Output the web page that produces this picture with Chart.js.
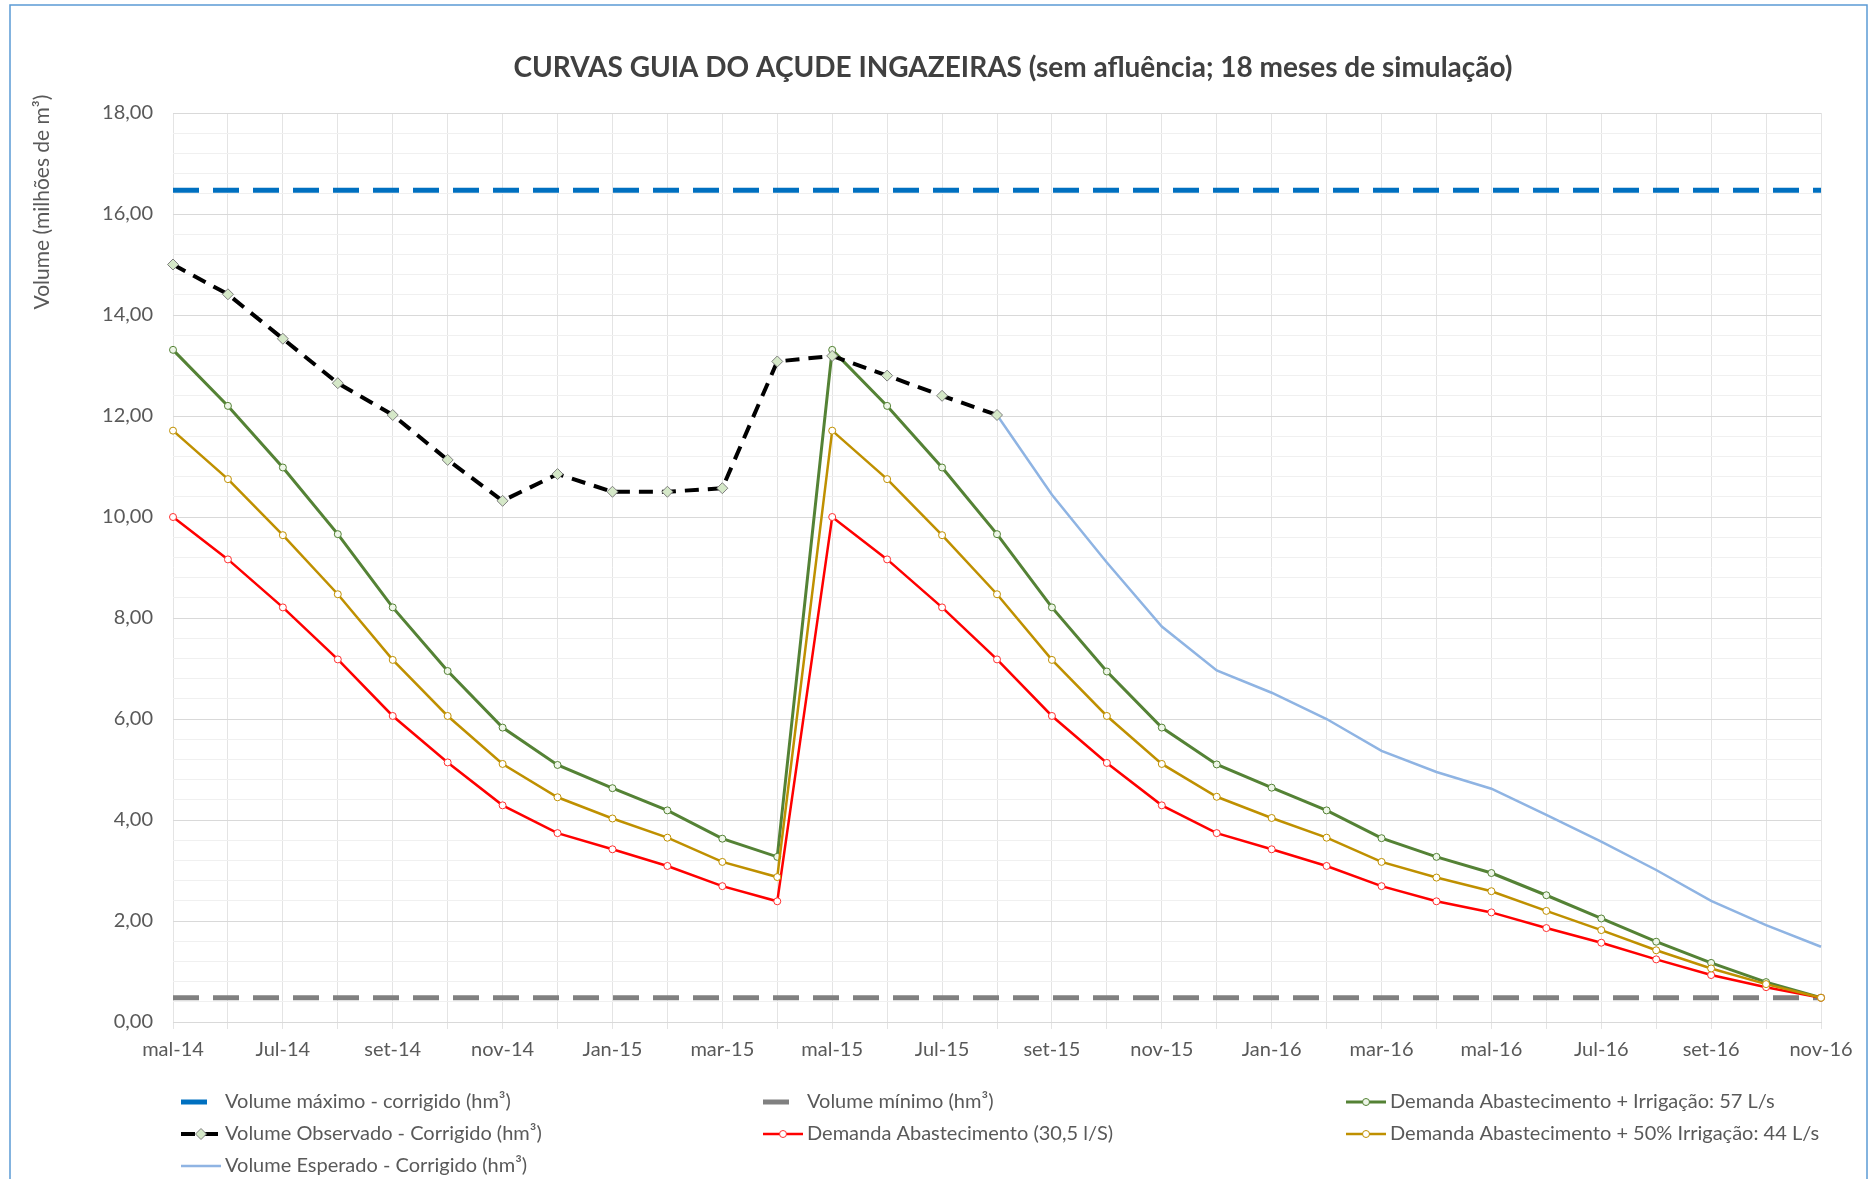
<!DOCTYPE html>
<html>
<head>
<meta charset="utf-8">
<title>Curvas guia - Açude Ingazeiras</title>
<script src="https://cdn.jsdelivr.net/npm/chart.js@4.4.1/dist/chart.umd.min.js"></script>
<style>
  html, body { margin: 0; padding: 0; background: #fff; }
  #wrap { width: 1872px; height: 1179px; }
</style>
</head>
<body>
<div id="wrap"><canvas id="curvas-chart" width="1872" height="1179"></canvas></div>
<script>
// months on the x axis (only every 2nd one gets a label)
const months = ['mal-14', 'jun-14', 'Jul-14', 'ago-14', 'set-14', 'out-14', 'nov-14', 'dez-14',
  'Jan-15', 'fev-15', 'mar-15', 'abr-15', 'mal-15', 'jun-15', 'Jul-15', 'ago-15', 'set-15', 'out-15',
  'nov-15', 'dez-15', 'Jan-16', 'fev-16', 'mar-16', 'abr-16', 'mal-16', 'jun-16', 'Jul-16', 'ago-16',
  'set-16', 'out-16', 'nov-16']

// y ticks, 0 to 18 every 2
const yTicks = [0, 2, 4, 6, 8, 10, 12, 14, 16, 18]

const volumeMaximo = [16.47, 16.47, 16.47, 16.47, 16.47, 16.47, 16.47, 16.47, 16.47, 16.47, 16.47,
  16.47, 16.47, 16.47, 16.47, 16.47, 16.47, 16.47, 16.47, 16.47, 16.47, 16.47, 16.47, 16.47, 16.47,
  16.47, 16.47, 16.47, 16.47, 16.47, 16.47]

const volumeMinimo = [0.48, 0.48, 0.48, 0.48, 0.48, 0.48, 0.48, 0.48, 0.48, 0.48, 0.48, 0.48,
  0.48, 0.48, 0.48, 0.48, 0.48, 0.48, 0.48, 0.48, 0.48, 0.48, 0.48, 0.48, 0.48, 0.48, 0.48, 0.48,
  0.48, 0.48, 0.48]

const irrigacao57 = [13.31, 12.20, 10.98, 9.66, 8.21, 6.95, 5.83, 5.09, 4.63, 4.19, 3.63, 3.27,
  13.31, 12.20, 10.98, 9.66, 8.21, 6.94, 5.83, 5.10, 4.64, 4.19, 3.64, 3.27, 2.95, 2.51, 2.05,
  1.59, 1.17, 0.79, 0.48]

const observado = [15.00, 14.41, 13.53, 12.65, 12.02, 11.13, 10.32, 10.85, 10.50, 10.50, 10.57,
  13.08, 13.19, 12.80, 12.40, 12.02, null, null, null, null, null, null, null, null, null, null,
  null, null, null, null, null]

const abastecimento = [10.00, 9.16, 8.21, 7.18, 6.06, 5.14, 4.29, 3.74, 3.42, 3.09, 2.69, 2.39,
  10.00, 9.16, 8.21, 7.18, 6.06, 5.13, 4.29, 3.74, 3.42, 3.09, 2.69, 2.39, 2.17, 1.86, 1.57,
  1.24, 0.93, 0.69, 0.48]

const irrigacao44 = [11.71, 10.75, 9.64, 8.47, 7.17, 6.06, 5.11, 4.45, 4.03, 3.65, 3.17, 2.87,
  11.71, 10.75, 9.64, 8.47, 7.17, 6.06, 5.11, 4.46, 4.04, 3.65, 3.17, 2.86, 2.59, 2.20, 1.82,
  1.42, 1.06, 0.75, 0.48]

const esperado = [null, null, null, null, null, null, null, null, null, null, null, null, null,
  null, null, 12.02, 10.44, 9.10, 7.83, 6.96, 6.52, 6.00, 5.37, 4.95, 4.62, 4.10, 3.57, 3.01,
  2.40, 1.92, 1.49]

const FONT = 'Lato, "Open Sans", sans-serif'
const TEXT_COLOR = '#595959'

Chart.defaults.font.family = FONT
Chart.defaults.color = TEXT_COLOR

// where each legend entry goes (col, row) - legend is a 3 column grid like in excel
const legendCols = [181, 763, 1346]
const legendRows = [1102, 1134, 1166]

// draws frame, title, y title and the legend grid
const excelLook = {
    id: 'excelLook',
    beforeDraw(chart) {
        const c = chart.ctx
        c.save()
        c.fillStyle = '#fff'
        c.fillRect(0, 0, chart.width, chart.height)
        c.strokeStyle = '#5B9BD5'
        c.lineWidth = 1.5
        c.strokeRect(10, 5, 1857, 1190)
        c.restore()
    },
    afterDraw(chart) {
        const c = chart.ctx
        c.save()

        // title
        c.fillStyle = '#404040'
        c.font = 'bold 28px ' + FONT
        c.textAlign = 'center'
        c.textBaseline = 'middle'
        c.fillText('CURVAS GUIA DO AÇUDE INGAZEIRAS (sem afluência; 18 meses de simulação)', 1013, 68)

        // y axis title, sits up near the top like the original
        c.save()
        c.translate(42, 202)
        c.rotate(-Math.PI / 2)
        c.fillStyle = TEXT_COLOR
        c.font = '21px ' + FONT
        c.fillText('Volume (milhões de m³)', 0, 0)
        c.restore()

        // legend
        c.font = '20px ' + FONT
        c.textAlign = 'left'
        chart.data.datasets.forEach(function (ds) {
            const x = legendCols[ds.legendSlot[0]]
            const y = legendRows[ds.legendSlot[1]]
            c.save()
            c.strokeStyle = ds.borderColor
            c.lineWidth = ds.borderWidth
            c.setLineDash(ds.borderDash || [])
            c.beginPath()
            c.moveTo(x, y)
            c.lineTo(x + 40, y)
            c.stroke()
            c.setLineDash([])
            if (ds.pointRadius > 0) {
                c.fillStyle = ds.pointBackgroundColor
                c.strokeStyle = ds.pointBorderColor
                c.lineWidth = ds.pointBorderWidth
                Chart.helpers.drawPoint(c, {
                    pointStyle: ds.pointStyle, rotation: 0,
                    radius: ds.pointRadius, borderWidth: ds.pointBorderWidth
                }, x + 20, y)
            }
            c.restore()
            c.fillStyle = TEXT_COLOR
            c.fillText(ds.label, x + 44, y)
        })
        c.restore()
    }
}

let ctx = document.querySelector('#curvas-chart').getContext('2d')

let curvasChart = new Chart(ctx, {
    type: 'line',
    data: {
        labels: months,
        datasets: [
            {
                label: 'Volume máximo - corrigido (hm³)',
                data: volumeMaximo,
                borderColor: '#0070C0', borderWidth: 5, borderDash: [26, 14],
                pointRadius: 0, order: 0, legendSlot: [0, 0]
            },
            {
                label: 'Volume mínimo (hm³)',
                data: volumeMinimo,
                borderColor: '#808080', borderWidth: 5, borderDash: [26, 14],
                pointRadius: 0, order: 6, legendSlot: [1, 0]
            },
            {
                label: 'Demanda Abastecimento + Irrigação: 57 L/s',
                data: irrigacao57,
                borderColor: '#548235', borderWidth: 3,
                pointStyle: 'circle', pointRadius: 3.5, pointBorderWidth: 1,
                pointBackgroundColor: '#EEF6E8', pointBorderColor: '#548235',
                order: 4, legendSlot: [2, 0]
            },
            {
                label: 'Volume Observado - Corrigido (hm³)',
                data: observado,
                borderColor: '#000000', borderWidth: 4, borderDash: [14, 9],
                pointStyle: 'rectRot', pointRadius: 5.5, pointBorderWidth: 1,
                pointBackgroundColor: '#D5E8C8', pointBorderColor: '#7F7F7F',
                order: 1, legendSlot: [0, 1]
            },
            {
                label: 'Demanda Abastecimento (30,5 l/S)',
                data: abastecimento,
                borderColor: '#FF0000', borderWidth: 2.5,
                pointStyle: 'circle', pointRadius: 3.5, pointBorderWidth: 1,
                pointBackgroundColor: '#FFFFFF', pointBorderColor: '#FF3030',
                order: 3, legendSlot: [1, 1]
            },
            {
                label: 'Demanda Abastecimento + 50% Irrigação: 44 L/s',
                data: irrigacao44,
                borderColor: '#BF9000', borderWidth: 2.5,
                pointStyle: 'circle', pointRadius: 3.5, pointBorderWidth: 1,
                pointBackgroundColor: '#FFFFFF', pointBorderColor: '#BF9000',
                order: 2, legendSlot: [2, 1]
            },
            {
                label: 'Volume Esperado - Corrigido (hm³)',
                data: esperado,
                borderColor: '#8FB4E3', borderWidth: 2.5,
                pointRadius: 0, order: 5, legendSlot: [0, 2]
            }
        ]
    },
    options: {
        responsive: false,
        animation: false,
        layout: { padding: { left: 73, right: 51, top: 113, bottom: 0 } },
        plugins: {
            legend: { display: false },
            title: { display: false },
            tooltip: { enabled: false }
        },
        scales: {
            x: {
                grid: { color: '#E4E4E4', tickLength: 7 },
                border: { color: '#D9D9D9' },
                ticks: {
                    autoSkip: false, maxRotation: 0, minRotation: 0, padding: 9,
                    font: { size: 20 }, color: TEXT_COLOR,
                    callback: function (v, i) { return i % 2 === 0 ? months[i] : '' }
                },
                afterFit: function (s) { s.height = 157 }
            },
            y: {
                min: 0, max: 18,
                border: { display: false },
                grid: {
                    drawTicks: false,
                    color: function (c) {
                        return yTicks.some(t => Math.abs(t - c.tick.value) < 1e-6) ? '#D9D9D9' : '#F0F0F0'
                    }
                },
                ticks: {
                    stepSize: 0.4, autoSkip: false, padding: 20,
                    font: { size: 20 }, color: TEXT_COLOR,
                    callback: function (v) {
                        let t = yTicks.find(t => Math.abs(t - v) < 1e-6)
                        return t === undefined ? '' : t.toFixed(2).replace('.', ',')
                    }
                },
                afterFit: function (s) { s.width = 100 }
            }
        }
    },
    plugins: [excelLook]
})
</script>
</body>
</html>
